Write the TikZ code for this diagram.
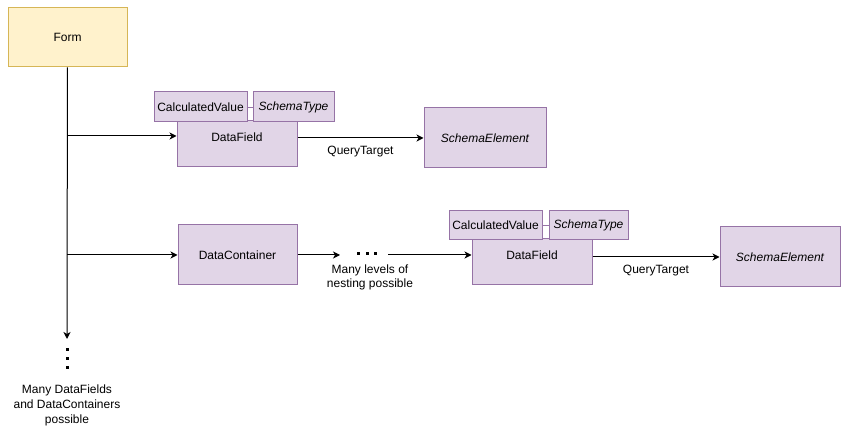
\documentclass[tikz,border=0pt]{standalone}
\usepackage{fontspec}
\setmainfont{Liberation Sans}
\usetikzlibrary{positioning,arrows.meta}
\definecolor{formfill}{HTML}{FFF2CC}
\definecolor{formline}{HTML}{D6B656}
\definecolor{elfill}{HTML}{E1D5E7}
\definecolor{elline}{HTML}{9673A6}
\tikzset{
  box/.style={draw=elline,fill=elfill,line width=1pt,inner sep=0pt,font=\fontsize{12}{14}\selectfont},
  formbox/.style={box,draw=formline,fill=formfill},
  itbox/.style={box,font=\fontsize{12}{14}\selectfont\itshape},
  note/.style={font=\fontsize{12}{13.5}\selectfont,align=center,inner sep=0pt},
  arr/.style={-{Stealth[length=7pt,width=7pt,inset=2pt]},line width=1pt},
  dotsq/.style={fill=black,inner sep=0pt,minimum size=3pt},
}

\begin{document}
\begin{tikzpicture}[x=1pt,y=-1pt]
\useasboundingbox (0,0) rectangle (844,430);
\node[formbox,minimum width=119,minimum height=59] (form) at (67.5,37.5) {Form};
% first row
\node[box,minimum width=120,minimum height=46] (df1) at (237,144) {};
\node[note] (df1t) at (237,137) {DataField};
\node[box,minimum width=93,minimum height=30] (cv1) at (200.5,107) {CalculatedValue};
\node[itbox,minimum width=81,minimum height=30] (st1) at (293.5,107) {SchemaType};
\node[itbox,minimum width=122,minimum height=60] (se1) at (485,138) {SchemaElement};
% second row
\node[box,minimum width=119,minimum height=60] (dc) at (237.5,255) {DataContainer};
\node[box,minimum width=120,minimum height=46] (df2) at (532,262) {};
\node[note] (df2t) at (532,255.5) {DataField};
\node[box,minimum width=93,minimum height=29] (cv2) at (495.5,225.5) {CalculatedValue};
\node[itbox,minimum width=79,minimum height=29] (st2) at (588.5,225.5) {SchemaType};
\node[itbox,minimum width=120,minimum height=60] (se2) at (780,257) {SchemaElement};
\node[note] (nestnote) at (370,277.5) {Many levels of\\nesting possible};
\node[note,font=\fontsize{12}{15}\selectfont] (morenote) at (67,405) {Many DataFields\\and DataContainers\\possible};
% dots
\foreach \x in {358.5,367,375.5} \node[dotsq] at (\x,253.5) {};
\foreach \y in {350,358.5,368} \node[dotsq] at (67.5,\y) {};
\coordinate (trunk1) at (67,136);
\coordinate (trunk2) at (67,255);
\coordinate (trunkend) at (67,339);
\coordinate (nestin) at (340,255);
\coordinate (nestout) at (388,255);
\draw[arr] (form) -- (trunkend);
\draw[arr] (trunk1) -- (df1.west |- trunk1);
\draw[arr] (trunk2) -- (dc);
\draw[arr] (dc) -- (nestin);
\draw[arr] (nestout) -- (df2.west |- nestout);
\draw[elline,line width=0.8pt] (cv1) -- (st1);
\draw[elline,line width=0.8pt] (cv2) -- (st2);
\draw[arr] (df1.east |- se1) -- node[note,below=8pt]{QueryTarget} (se1);
\draw[arr] (df2.east |- se2) -- node[note,below=8pt]{QueryTarget} (se2);
\end{tikzpicture}
\end{document}
